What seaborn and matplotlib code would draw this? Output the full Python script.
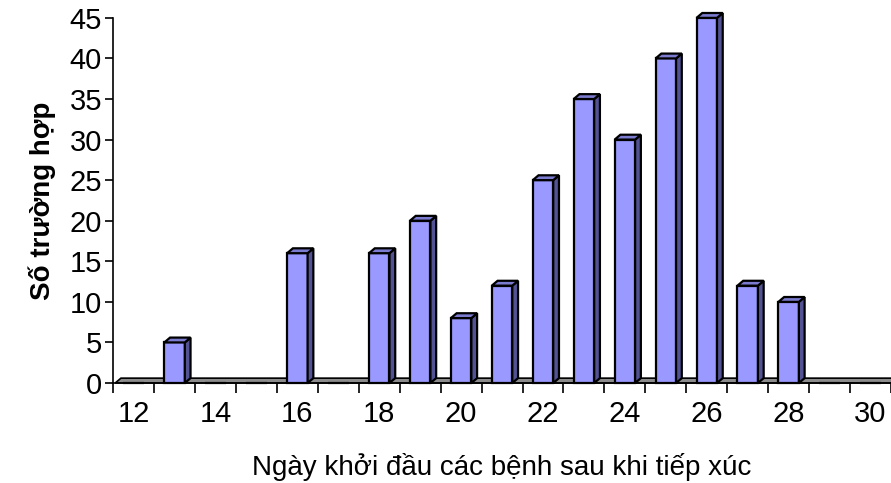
import matplotlib
matplotlib.use("Agg")
import matplotlib.pyplot as plt
import seaborn as sns
import pandas as pd
from matplotlib.patches import Polygon

# days after exposure (category axis) and number of cases
days = list(range(12, 31))
cases = [0, 5, 0, 0, 16, 0, 16, 20, 8, 12, 25, 35, 30, 40, 45, 12, 10, 0, 0]
tick_labels = [str(d) if d % 2 == 0 else "" for d in days]

front = "#9999ff"
side = "#525294"
top = "#7b7bd0"

sns.set_theme(style="white")
plt.rcParams['font.family'] = ['Liberation Sans', 'DejaVu Sans']
plt.rcParams['text.color'] = 'black'
plt.rcParams['axes.labelcolor'] = 'black'
plt.rcParams['xtick.color'] = 'black'
plt.rcParams['ytick.color'] = 'black'

df = pd.DataFrame({"day": [str(d) for d in days], "cases": cases})

fig = plt.figure(figsize=(8.91, 4.83), dpi=100)
ax = fig.add_axes([0.127, 0.207, 0.873, 0.756])

sns.barplot(data=df, x="day", y="cases", order=df["day"], color=front,
            width=0.5, saturation=1, edgecolor="black", linewidth=1.6, ax=ax,
            zorder=3)
for p in ax.patches:
    p.set_clip_on(False)

dx = 0.14
dy = 0.6
w = 0.5

# floor strip
ax.add_patch(Polygon([(-0.45, 0), (-0.45 + dx, dy), (18.6, dy), (18.6, 0)],
                     closed=True, facecolor="#8c8c8c", edgecolor="black",
                     linewidth=1.2, zorder=2, clip_on=False))

# 3d side and top faces
for i, h in enumerate(cases):
    if h == 0:
        continue
    x0 = i - w / 2
    x1 = i + w / 2
    ax.add_patch(Polygon([(x1, 0), (x1 + dx, dy), (x1 + dx, h + dy), (x1, h)],
                         closed=True, facecolor=side, edgecolor="black",
                         linewidth=1.6, zorder=4, clip_on=False))
    ax.add_patch(Polygon([(x0, h), (x0 + dx, h + dy), (x1 + dx, h + dy), (x1, h)],
                         closed=True, facecolor=top, edgecolor="black",
                         linewidth=1.6, zorder=4, clip_on=False))

ax.set_xlim(-0.5, 18.5)
ax.set_ylim(0, 45)
ax.set_yticks(range(0, 46, 5))
ax.set_yticklabels([str(v) for v in range(0, 46, 5)], fontsize=21)

# category axis: ticks between categories, labels at centers
ax.set_xticks([i - 0.5 for i in range(len(days) + 1)])
ax.set_xticklabels([])
ax.set_xticks(range(len(days)), minor=True)
ax.set_xticklabels(tick_labels, minor=True, fontsize=21)
ax.tick_params(axis="x", which="major", direction="out", length=7, width=1.2,
               bottom=True)
ax.tick_params(axis="x", which="minor", length=0, pad=12)
ax.tick_params(axis="y", direction="out", length=6, width=1.2,
               left=True, pad=2)

for s in ["top", "right"]:
    ax.spines[s].set_visible(False)
for s in ["left", "bottom"]:
    ax.spines[s].set_color("black")
    ax.spines[s].set_linewidth(1.2)

ax.set_xlabel("Ngày khởi đầu các bệnh sau khi tiếp xúc", fontsize=20,
              labelpad=18)
ax.set_ylabel("Số trường hợp", fontsize=20, fontweight="heavy",
              family=['Liberation Sans Narrow', 'Liberation Sans', 'DejaVu Sans'],
              labelpad=10)

fig.savefig("out.png", dpi=100)
